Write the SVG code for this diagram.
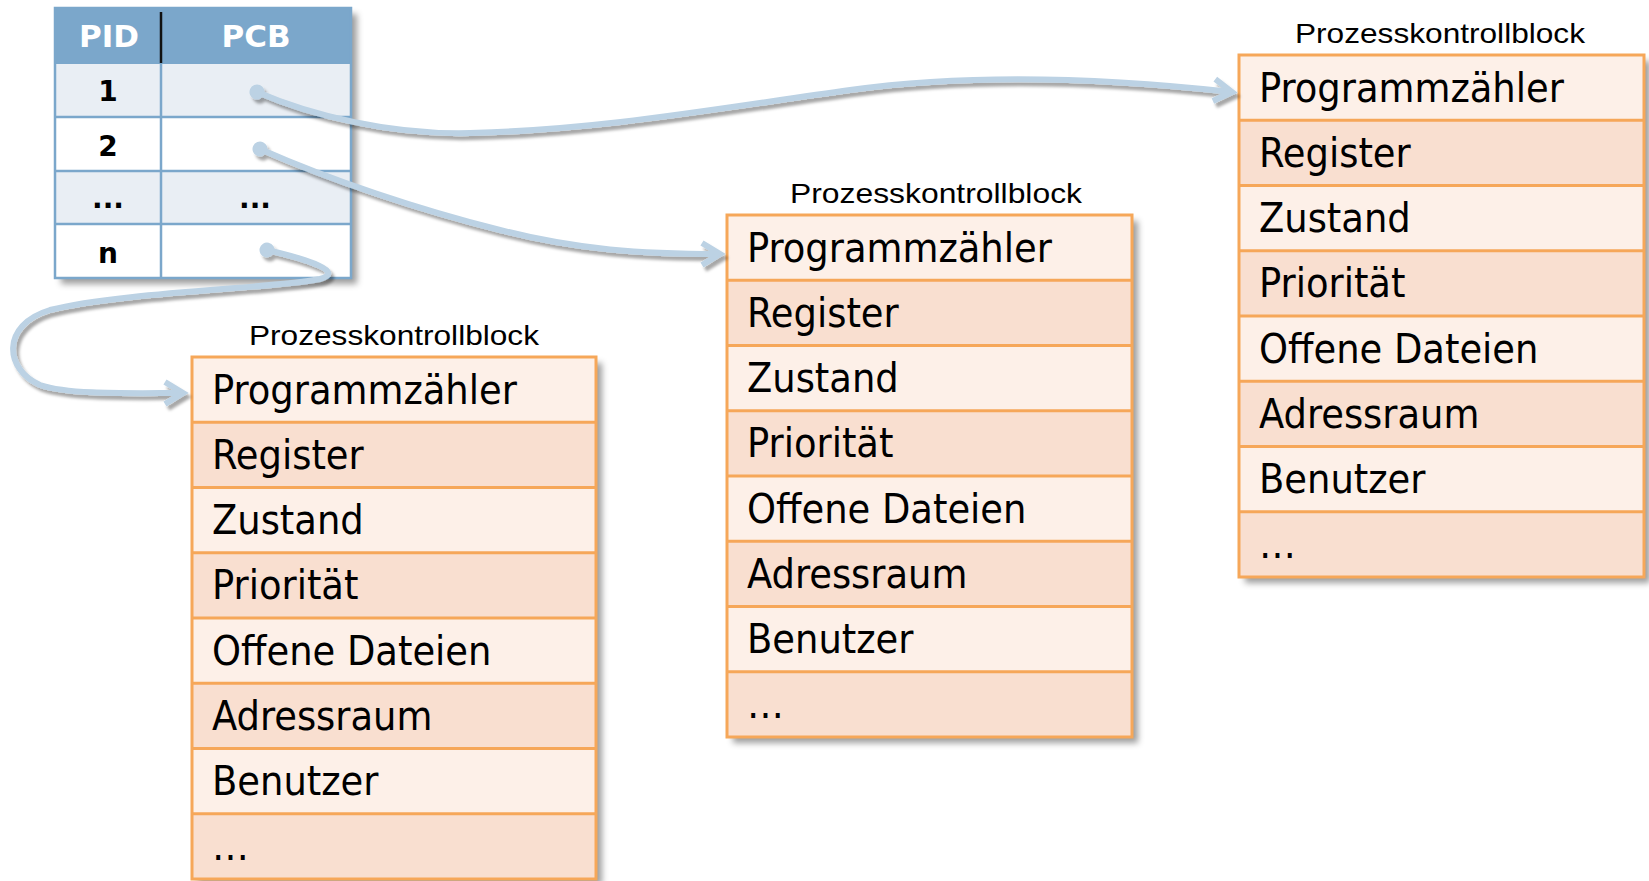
<svg xmlns="http://www.w3.org/2000/svg" width="1649" height="881" viewBox="0 0 1649 881">
  <style>
    .tbl-head { fill: #7ba7cb; }
    .tbl-light { fill: #e9eef4; }
    .tbl-white { fill: #ffffff; }
    .tbl-grid { stroke: #7ba7cb; stroke-width: 2.5; fill: none; }
    .tbl-head-txt { font-family: "DejaVu Sans", Verdana, sans-serif; font-weight: bold; font-size: 31px; fill: #ffffff; text-anchor: middle; }
    .tbl-txt { font-family: "DejaVu Sans", Verdana, sans-serif; font-weight: bold; font-size: 28px; fill: #000000; text-anchor: middle; }
    .pcb-light { fill: #fdf0e8; }
    .pcb-dark { fill: #f9dfd0; }
    .pcb-line { stroke: #f6a759; stroke-width: 3; fill: none; }
    .pcb-txt { font-family: "DejaVu Sans Condensed", "DejaVu Sans", sans-serif; font-stretch: condensed; font-size: 41px; fill: #000000; }
    .pcb-title { font-family: "Liberation Sans", Arial, sans-serif; font-size: 28.5px; fill: #000000; text-anchor: middle; }
    .link { fill: none; stroke: #bcd2e4; stroke-width: 6; marker-start: url(#dot); marker-end: url(#chevron); filter: url(#linkShadow); }
  </style>
  <defs>
    <filter id="boxShadow" x="-10%" y="-10%" width="125%" height="125%">
      <feDropShadow dx="6" dy="6" stdDeviation="3" flood-color="#000000" flood-opacity="0.38"/>
    </filter>
    <filter id="linkShadow" x="-10%" y="-20%" width="120%" height="150%">
      <feDropShadow dx="3" dy="4" stdDeviation="1.8" flood-color="#000000" flood-opacity="0.35"/>
    </filter>
    <marker id="dot" markerUnits="userSpaceOnUse" markerWidth="20" markerHeight="20" refX="10" refY="10" orient="auto" overflow="visible">
      <circle cx="10" cy="10" r="7.5" fill="#bcd2e4"/>
    </marker>
    <marker id="chevron" markerUnits="userSpaceOnUse" markerWidth="40" markerHeight="40" refX="0" refY="0" orient="auto" overflow="visible">
      <path d="M -18,-11 L 0,0 L -18,11" fill="none" stroke="#bcd2e4" stroke-width="6" stroke-linejoin="miter" stroke-linecap="butt"/>
    </marker>
  </defs>

  <!-- process table: PID -> PCB pointer -->
  <g id="pid-table">
    <rect x="55" y="8" width="296" height="270" class="tbl-white" filter="url(#boxShadow)"/>
    <rect x="55" y="8" width="296" height="56" class="tbl-head"/>
    <rect x="55" y="64" width="296" height="53" class="tbl-light"/>
    <rect x="55" y="117" width="296" height="54" class="tbl-white"/>
    <rect x="55" y="171" width="296" height="53" class="tbl-light"/>
    <rect x="55" y="224" width="296" height="54" class="tbl-white"/>
    <path class="tbl-grid" d="M55,117 H351 M55,171 H351 M55,224 H351 M161,64 V278"/>
    <rect x="55" y="8" width="296" height="270" class="tbl-grid"/>
    <line x1="161" y1="12" x2="161" y2="63" stroke="#111111" stroke-width="2.5"/>
    <text x="109" y="47" class="tbl-head-txt">PID</text>
    <text x="256" y="47" class="tbl-head-txt">PCB</text>
    <text x="108" y="101" class="tbl-txt">1</text>
    <text x="108" y="156" class="tbl-txt">2</text>
    <text x="108" y="208" class="tbl-txt">...</text>
    <text x="255" y="208" class="tbl-txt">...</text>
    <text x="108" y="263" class="tbl-txt">n</text>
  </g>

  <!-- PCB for process n -->
  <g id="pcb-n" transform="translate(192,357)">
    <text x="202" y="-12" class="pcb-title" textLength="290" lengthAdjust="spacingAndGlyphs">Prozesskontrollblock</text>
    <rect x="0" y="0" width="404" height="522" class="pcb-light" filter="url(#boxShadow)"/>
    <rect x="0" y="65.25" width="404" height="65.25" class="pcb-dark"/>
    <rect x="0" y="195.75" width="404" height="65.25" class="pcb-dark"/>
    <rect x="0" y="326.25" width="404" height="65.25" class="pcb-dark"/>
    <rect x="0" y="456.75" width="404" height="65.25" class="pcb-dark"/>
    <path class="pcb-line" d="M0,65.25 H404 M0,130.5 H404 M0,195.75 H404 M0,261 H404 M0,326.25 H404 M0,391.5 H404 M0,456.75 H404"/>
    <rect x="0" y="0" width="404" height="522" class="pcb-line"/>
    <text x="20" y="46.5" class="pcb-txt">Programmzähler</text>
    <text x="20" y="111.75" class="pcb-txt">Register</text>
    <text x="20" y="177" class="pcb-txt">Zustand</text>
    <text x="20" y="242.25" class="pcb-txt">Priorität</text>
    <text x="20" y="307.5" class="pcb-txt">Offene Dateien</text>
    <text x="20" y="372.75" class="pcb-txt">Adressraum</text>
    <text x="20" y="438" class="pcb-txt">Benutzer</text>
    <text x="20" y="503.25" class="pcb-txt">…</text>
  </g>

  <!-- PCB for process 2 -->
  <g id="pcb-2" transform="translate(727,215)">
    <text x="209" y="-12" class="pcb-title" textLength="292" lengthAdjust="spacingAndGlyphs">Prozesskontrollblock</text>
    <rect x="0" y="0" width="405" height="522" class="pcb-light" filter="url(#boxShadow)"/>
    <rect x="0" y="65.25" width="405" height="65.25" class="pcb-dark"/>
    <rect x="0" y="195.75" width="405" height="65.25" class="pcb-dark"/>
    <rect x="0" y="326.25" width="405" height="65.25" class="pcb-dark"/>
    <rect x="0" y="456.75" width="405" height="65.25" class="pcb-dark"/>
    <path class="pcb-line" d="M0,65.25 H405 M0,130.5 H405 M0,195.75 H405 M0,261 H405 M0,326.25 H405 M0,391.5 H405 M0,456.75 H405"/>
    <rect x="0" y="0" width="405" height="522" class="pcb-line"/>
    <text x="20" y="46.5" class="pcb-txt">Programmzähler</text>
    <text x="20" y="111.75" class="pcb-txt">Register</text>
    <text x="20" y="177" class="pcb-txt">Zustand</text>
    <text x="20" y="242.25" class="pcb-txt">Priorität</text>
    <text x="20" y="307.5" class="pcb-txt">Offene Dateien</text>
    <text x="20" y="372.75" class="pcb-txt">Adressraum</text>
    <text x="20" y="438" class="pcb-txt">Benutzer</text>
    <text x="20" y="503.25" class="pcb-txt">…</text>
  </g>

  <!-- PCB for process 1 -->
  <g id="pcb-1" transform="translate(1239,55)">
    <text x="201" y="-12" class="pcb-title" textLength="290" lengthAdjust="spacingAndGlyphs">Prozesskontrollblock</text>
    <rect x="0" y="0" width="405" height="522" class="pcb-light" filter="url(#boxShadow)"/>
    <rect x="0" y="65.25" width="405" height="65.25" class="pcb-dark"/>
    <rect x="0" y="195.75" width="405" height="65.25" class="pcb-dark"/>
    <rect x="0" y="326.25" width="405" height="65.25" class="pcb-dark"/>
    <rect x="0" y="456.75" width="405" height="65.25" class="pcb-dark"/>
    <path class="pcb-line" d="M0,65.25 H405 M0,130.5 H405 M0,195.75 H405 M0,261 H405 M0,326.25 H405 M0,391.5 H405 M0,456.75 H405"/>
    <rect x="0" y="0" width="405" height="522" class="pcb-line"/>
    <text x="20" y="46.5" class="pcb-txt">Programmzähler</text>
    <text x="20" y="111.75" class="pcb-txt">Register</text>
    <text x="20" y="177" class="pcb-txt">Zustand</text>
    <text x="20" y="242.25" class="pcb-txt">Priorität</text>
    <text x="20" y="307.5" class="pcb-txt">Offene Dateien</text>
    <text x="20" y="372.75" class="pcb-txt">Adressraum</text>
    <text x="20" y="438" class="pcb-txt">Benutzer</text>
    <text x="20" y="503.25" class="pcb-txt">…</text>
  </g>

  <!-- pointers from the table cells to the control blocks -->
  <g id="connectors">
    <path id="link-1" class="link" d="M257,92 C310,115 390,135 470,133 C600,130 720,108 850,90 C950,76 1070,74 1232,92"/>
    <path id="link-2" class="link" d="M260,149 C330,180 420,210 500,230 C580,250 640,254 720,254"/>
    <path id="link-n" class="link" d="M267,250 C310,260 345,272 320,279 C280,288 120,292 50,310 C0,325 5,370 40,385 C70,395 130,393 183,393"/>
  </g>
</svg>
